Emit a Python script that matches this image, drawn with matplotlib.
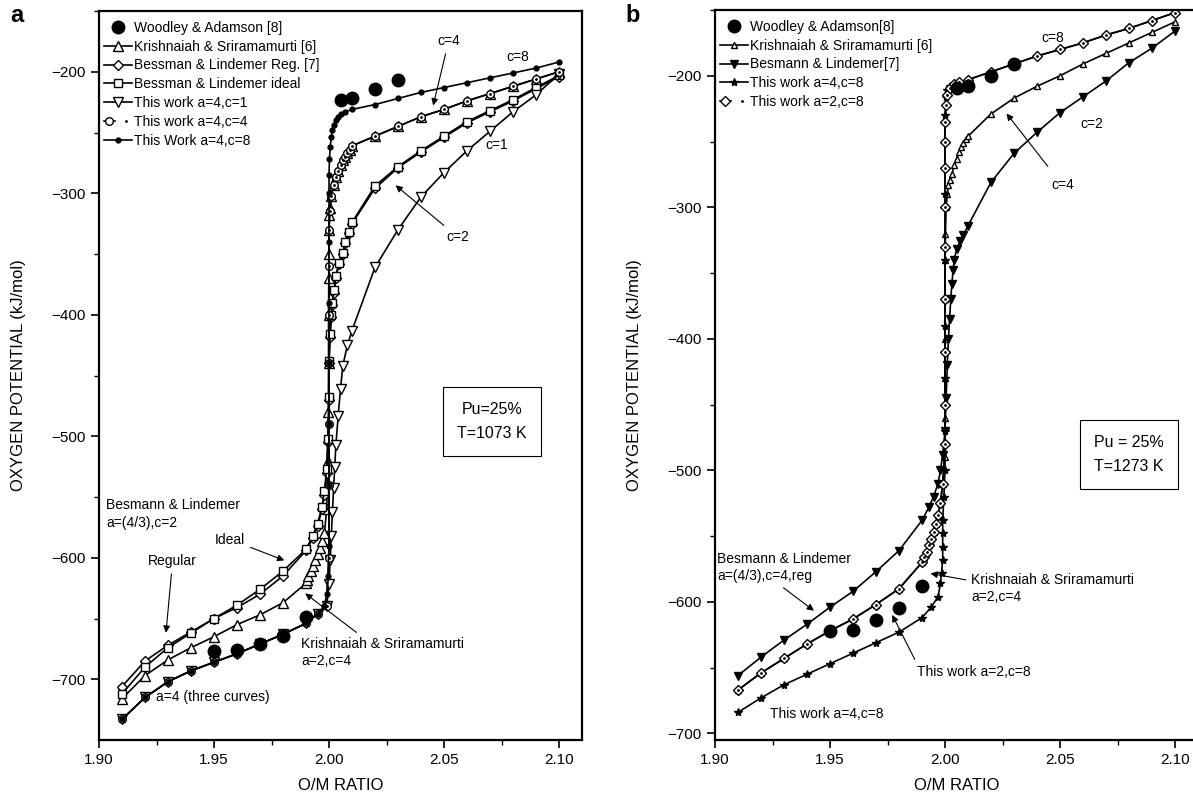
import matplotlib

matplotlib.use("Agg")
import matplotlib.pyplot as plt
from matplotlib.legend_handler import HandlerTuple

plt.rcParams["font.family"] = ["Liberation Sans", "DejaVu Sans"]

# ---------------- panel a (T = 1073 K) ----------------
a_wood_x = [1.95, 1.96, 1.97, 1.98, 1.99, 2.005, 2.01, 2.02, 2.03]
a_wood_y = [-677, -676, -671, -664, -649, -223, -222, -214, -207]

a_krish_x = [1.91, 1.92, 1.93, 1.94, 1.95, 1.96, 1.97, 1.98, 1.99, 1.9905, 1.991, 1.992,
             1.993, 1.994, 1.995, 1.996, 1.997, 1.998, 1.999, 1.9995, 1.9997, 1.9998, 1.9998,
             1.9999, 1.9999, 2.0, 2.0, 2.0005, 2.001, 2.002, 2.003, 2.004, 2.005, 2.006,
             2.007, 2.008, 2.009, 2.01, 2.02, 2.03, 2.04, 2.05, 2.06, 2.07, 2.08, 2.09, 2.10]
a_krish_y = [-716, -697, -684, -674, -665, -655, -647, -637, -621, -618, -615, -611,
             -607, -602, -597, -592, -586, -580, -560, -520, -480, -440, -400,
             -370, -350, -330, -318, -312, -302, -293, -287, -282, -277, -273,
             -270, -267, -264, -261, -253, -245, -237, -231, -224, -218, -212, -206, -200]

a_reg_x = [1.91, 1.92, 1.93, 1.94, 1.95, 1.96, 1.97, 1.98, 1.99, 1.993, 1.995, 1.997,
           1.998, 1.999, 1.9995, 2.0, 2.0, 2.0005, 2.001, 2.0015, 2.0022, 2.003, 2.0043,
           2.006, 2.007, 2.0085, 2.01, 2.02, 2.03, 2.04, 2.05, 2.06, 2.07, 2.08, 2.09, 2.10]
a_reg_y = [-706, -685, -672, -661, -650, -641, -630, -615, -594, -584, -574, -560,
           -548, -530, -505, -470, -440, -418, -402, -392, -382, -370, -358,
           -350, -341, -333, -325, -296, -279, -266, -254, -242, -233, -224, -214, -204]

a_ideal_x = [1.91, 1.92, 1.93, 1.94, 1.95, 1.96, 1.97, 1.98, 1.99, 1.993, 1.995, 1.997,
             1.998, 1.999, 1.9995, 2.0, 2.0, 2.0005, 2.001, 2.0015, 2.0022, 2.003, 2.0043,
             2.006, 2.007, 2.0085, 2.01, 2.02, 2.03, 2.04, 2.05, 2.06, 2.07, 2.08, 2.09, 2.10]
a_ideal_y = [-712, -690, -674, -662, -650, -639, -626, -611, -593, -582, -572, -558,
             -545, -527, -502, -468, -438, -416, -400, -390, -380, -368, -357,
             -349, -340, -332, -324, -294, -278, -265, -253, -241, -232, -223, -213, -203]

a_c1_x = [1.91, 1.92, 1.93, 1.94, 1.95, 1.96, 1.97, 1.98, 1.99, 1.995, 1.999, 2.0,
          2.0005, 2.001, 2.0015, 2.002, 2.0025, 2.003, 2.004, 2.005, 2.006, 2.008,
          2.01, 2.02, 2.03, 2.04, 2.05, 2.06, 2.07, 2.08, 2.09, 2.10]
a_c1_y = [-733, -715, -702, -693, -686, -679, -671, -663, -654, -646, -640, -622,
          -602, -582, -562, -543, -525, -507, -483, -461, -442, -425,
          -413, -361, -330, -303, -283, -265, -249, -233, -219, -202]

a_c4_x = [1.91, 1.92, 1.93, 1.94, 1.95, 1.96, 1.97, 1.98, 1.99, 1.995, 1.999, 2.0,
          2.0, 2.0, 2.0, 2.0, 2.0, 2.0, 2.0005, 2.001, 2.002, 2.003, 2.004, 2.005,
          2.006, 2.007, 2.008, 2.009, 2.01, 2.02, 2.03, 2.04, 2.05, 2.06, 2.07,
          2.08, 2.09, 2.10]
a_c4_y = [-733, -715, -702, -693, -686, -679, -671, -663, -654, -646, -640, -600,
          -540, -490, -440, -400, -360, -330, -315, -302, -293, -287, -282, -277,
          -273, -270, -267, -264, -261, -253, -245, -237, -231, -224, -218,
          -212, -206, -200]

a_c8_x = [1.91, 1.92, 1.93, 1.94, 1.95, 1.96, 1.97, 1.98, 1.99, 1.995, 1.998, 1.999,
          1.9995, 2.0, 2.0, 2.0, 2.0, 2.0, 2.0, 2.0, 2.0, 2.0002, 2.0005, 2.001,
          2.0015, 2.002, 2.003, 2.004, 2.005, 2.007, 2.01, 2.02, 2.03, 2.04, 2.05,
          2.06, 2.07, 2.08, 2.09, 2.10]
a_c8_y = [-733, -715, -702, -693, -686, -679, -671, -663, -654, -646, -640, -630,
          -615, -590, -540, -490, -440, -390, -340, -300, -285, -272, -262, -254,
          -248, -244, -240, -237, -235, -233, -231, -227, -222, -217, -213,
          -209, -205, -201, -197, -192]

# ---------------- panel b (T = 1273 K) ----------------
b_wood_x = [1.95, 1.96, 1.97, 1.98, 1.99, 2.005, 2.01, 2.02, 2.03]
b_wood_y = [-622, -621, -614, -605, -588, -209, -208, -200, -191]

b_krish_x = [1.91, 1.92, 1.93, 1.94, 1.95, 1.96, 1.97, 1.98, 1.99, 1.991, 1.992, 1.993,
             1.994, 1.995, 1.996, 1.997, 1.998, 1.999, 2.0, 2.0, 2.0, 2.0, 2.0, 2.0,
             2.0002, 2.0005, 2.001, 2.0015, 2.002, 2.003, 2.004, 2.005, 2.006, 2.007,
             2.008, 2.009, 2.01, 2.02, 2.03, 2.04, 2.05, 2.06, 2.07, 2.08, 2.09, 2.10]
b_krish_y = [-667, -654, -643, -632, -622, -613, -602, -590, -570, -566, -562, -557,
             -552, -547, -541, -534, -525, -510, -490, -460, -430, -400, -370, -340,
             -320, -300, -290, -283, -279, -275, -268, -263, -258, -254,
             -251, -248, -246, -229, -217, -208, -200, -191, -183, -175, -167, -159]

b_besm_x = [1.91, 1.92, 1.93, 1.94, 1.95, 1.96, 1.97, 1.98, 1.99, 1.993, 1.995, 1.997,
            1.998, 1.999, 2.0, 2.0005, 2.001, 2.0015, 2.002, 2.0025, 2.003, 2.0035,
            2.004, 2.005, 2.0065, 2.008, 2.01, 2.02, 2.03, 2.04, 2.05, 2.06, 2.07,
            2.08, 2.09, 2.10]
b_besm_y = [-656, -642, -629, -617, -604, -592, -577, -561, -538, -528, -520, -510,
            -500, -488, -470, -445, -420, -400, -385, -370, -358, -348,
            -340, -332, -326, -321, -314, -281, -259, -243, -228, -216, -204,
            -190, -179, -166]

b_star_x = [1.91, 1.92, 1.93, 1.94, 1.95, 1.96, 1.97, 1.98, 1.99, 1.994, 1.997, 1.998,
            1.9985, 1.999, 1.999, 1.999, 1.999, 1.9995, 2.0, 2.0, 2.0, 2.0, 2.0, 2.0,
            2.0, 2.0, 2.0005, 2.001, 2.002, 2.004, 2.006, 2.01, 2.02, 2.03, 2.04,
            2.05, 2.06, 2.07, 2.08, 2.09, 2.10]
b_star_y = [-684, -673, -663, -655, -647, -639, -631, -623, -612, -604, -596, -586,
            -578, -568, -558, -548, -538, -520, -500, -470, -430, -390, -340, -290,
            -250, -230, -216, -211, -208, -206, -205, -203, -197, -191, -185,
            -180, -175, -169, -164, -158, -152]

b_diam_x = [1.91, 1.92, 1.93, 1.94, 1.95, 1.96, 1.97, 1.98, 1.99, 1.991, 1.992, 1.993,
            1.994, 1.995, 1.996, 1.997, 1.998, 1.999, 2.0, 2.0, 2.0, 2.0, 2.0, 2.0,
            2.0, 2.0, 2.0, 2.0005, 2.001, 2.002, 2.004, 2.006, 2.01, 2.02, 2.03,
            2.04, 2.05, 2.06, 2.07, 2.08, 2.09, 2.10]
b_diam_y = [-667, -654, -643, -632, -622, -613, -602, -590, -570, -566, -562, -557,
            -552, -547, -541, -534, -525, -510, -480, -450, -410, -370, -330, -300,
            -270, -250, -235, -222, -215, -209, -206, -205, -203, -197, -191,
            -185, -180, -175, -169, -164, -158, -152]

LW = 1.2


def style_axes(ax, xlim, ylim, yticks):
    ax.set_xlim(*xlim)
    ax.set_ylim(*ylim)
    ax.set_xticks([1.90, 1.95, 2.00, 2.05, 2.10])
    ax.set_xticklabels(["1.90", "1.95", "2.00", "2.05", "2.10"])
    ax.set_xticks([1.925, 1.975, 2.025, 2.075], minor=True)
    ax.set_yticks(yticks)
    ax.set_yticks([v + 50 for v in yticks], minor=True)
    ax.tick_params(which="major", direction="out", length=6, width=1.2, labelsize=11)
    ax.tick_params(which="minor", direction="out", length=3.5, width=1.0)
    for sp in ax.spines.values():
        sp.set_linewidth(1.6)
    ax.set_xlabel("O/M RATIO", fontsize=12, labelpad=8)
    ax.set_ylabel("OXYGEN POTENTIAL (kJ/mol)", fontsize=12, labelpad=18)


fig = plt.figure(figsize=(11.93, 8.0), dpi=100)
ax_a = fig.add_axes([99 / 1193, 1 - 740 / 800, (582 - 99) / 1193, (740 - 11) / 800])
ax_b = fig.add_axes([715 / 1193, 1 - 740 / 800, (1198 - 715) / 1193, (740 - 10) / 800])

# ---- panel a ----
ax = ax_a
h_wood, = ax.plot(a_wood_x, a_wood_y, "o", color="black", ms=9, ls="none", zorder=5)
h_kr, = ax.plot(a_krish_x, a_krish_y, "-^", color="black", mfc="white", ms=7, lw=LW)
h_reg, = ax.plot(a_reg_x, a_reg_y, "-D", color="black", mfc="white", ms=5.5, lw=LW)
h_id, = ax.plot(a_ideal_x, a_ideal_y, "-s", color="black", mfc="white", ms=5.5, lw=LW)
h_c1, = ax.plot(a_c1_x, a_c1_y, "-v", color="black", mfc="white", ms=7.5, lw=LW)
h_c4, = ax.plot(a_c4_x, a_c4_y, "-o", color="black", mfc="white", ms=5.5, lw=LW)
h_c4d, = ax.plot(a_c4_x, a_c4_y, ".", color="black", ms=2, ls="none")
h_c8, = ax.plot(a_c8_x, a_c8_y, "-o", color="black", ms=3.5, lw=LW)

ax.legend([h_wood, h_kr, h_reg, h_id, h_c1, (h_c4, h_c4d), h_c8],
          ["Woodley & Adamson [8]", "Krishnaiah & Sriramamurti [6]",
           "Bessman & Lindemer Reg. [7]", "Bessman & Lindemer ideal",
           "This work a=4,c=1", "This work a=4,c=4", "This Work a=4,c=8"],
          handler_map={tuple: HandlerTuple(ndivide=None)},
          loc="upper left", bbox_to_anchor=(-0.01, 1.0), frameon=False, fontsize=10,
          handlelength=2.0, handletextpad=0.2, labelspacing=0.35, borderaxespad=0.3)

arrow = dict(arrowstyle="-|>", color="black", lw=0.8, mutation_scale=10)
ax.annotate("c=4", xy=(2.045, -230), xytext=(2.052, -175), fontsize=10,
            ha="center", va="center", arrowprops=arrow)
ax.text(2.082, -188, "c=8", fontsize=10, ha="center", va="center")
ax.text(2.073, -260, "c=1", fontsize=10, ha="center", va="center")
ax.annotate("c=2", xy=(2.028, -292), xytext=(2.056, -336), fontsize=10,
            ha="center", va="center", arrowprops=arrow)
ax.text(1.903, -564, "Besmann & Lindemer\na=(4/3),c=2", fontsize=10,
        ha="left", va="center", linespacing=1.3)
ax.annotate("Ideal", xy=(1.9817, -603), xytext=(1.957, -585), fontsize=10,
            ha="center", va="center", arrowprops=arrow)
ax.annotate("Regular", xy=(1.929, -664), xytext=(1.932, -603), fontsize=10,
            ha="center", va="center", arrowprops=arrow)
ax.annotate("Krishnaiah & Sriramamurti\na=2,c=4", xy=(1.9887, -628),
            xytext=(1.988, -678), fontsize=10, ha="left", va="center",
            linespacing=1.3, arrowprops=arrow)
ax.text(1.925, -715, "a=4 (three curves)", fontsize=10, ha="left", va="center")
ax.text(2.071, -488, "Pu=25%\nT=1073 K", fontsize=11.5, ha="center", va="center",
        linespacing=1.8,
        bbox=dict(boxstyle="square,pad=0.9", fc="white", ec="black", lw=0.8))
style_axes(ax, (1.90, 2.11), (-750, -150), [-700, -600, -500, -400, -300, -200])

# ---- panel b ----
ax = ax_b
hb_wood, = ax.plot(b_wood_x, b_wood_y, "o", color="black", ms=9, ls="none", zorder=5)
hb_kr, = ax.plot(b_krish_x, b_krish_y, "-^", color="black", mfc="white", ms=5, lw=LW)
hb_bes, = ax.plot(b_besm_x, b_besm_y, "-v", color="black", ms=6, lw=LW)
hb_star, = ax.plot(b_star_x, b_star_y, "-*", color="black", ms=6, lw=LW)
hb_diam, = ax.plot(b_diam_x, b_diam_y, "-D", color="black", mfc="white", ms=5.5, lw=LW)
hb_diamd, = ax.plot(b_diam_x, b_diam_y, ".", color="black", ms=2, ls="none")

ax.legend([hb_wood, hb_kr, hb_bes, hb_star, (hb_diam, hb_diamd)],
          ["Woodley & Adamson[8]", "Krishnaiah & Sriramamurti [6]",
           "Besmann & Lindemer[7]", "This work a=4,c=8", "This work a=2,c=8"],
          handler_map={tuple: HandlerTuple(ndivide=None)},
          loc="upper left", bbox_to_anchor=(-0.01, 1.0), frameon=False, fontsize=10,
          handlelength=2.0, handletextpad=0.2, labelspacing=0.35, borderaxespad=0.3)

ax.text(2.047, -171, "c=8", fontsize=10, ha="center", va="center")
ax.text(2.064, -237, "c=2", fontsize=10, ha="center", va="center")
ax.annotate("c=4", xy=(2.026, -227), xytext=(2.051, -283), fontsize=10,
            ha="center", va="center",
            arrowprops=dict(arrowstyle="-|>", color="black", lw=0.8, mutation_scale=10,
                            shrinkA=8))
ax.annotate("Besmann & Lindemer\na=(4/3),c=4,reg", xy=(1.944, -608),
            xytext=(1.901, -574), fontsize=10, ha="left", va="center",
            linespacing=1.3, arrowprops=dict(arrowstyle="-|>", color="black", lw=0.8,
                                             mutation_scale=10, relpos=(0.45, 0.0)))
ax.annotate("Krishnaiah & Sriramamurti\na=2,c=4", xy=(1.9925, -578),
            xytext=(2.0115, -590), fontsize=10, ha="left", va="center",
            linespacing=1.3, arrowprops=dict(arrowstyle="-|>", color="black", lw=0.8,
                                             mutation_scale=10, relpos=(0.0, 0.75)))
ax.annotate("This work a=2,c=8", xy=(1.9765, -608), xytext=(1.988, -653),
            fontsize=10, ha="left", va="center",
            arrowprops=dict(arrowstyle="-|>", color="black", lw=0.8,
                            mutation_scale=10, relpos=(0.0, 1.0)))
ax.text(1.924, -685, "This work a=4,c=8", fontsize=10, ha="left", va="center")
ax.text(2.08, -488, "Pu = 25%\nT=1273 K", fontsize=11.5, ha="center", va="center",
        linespacing=1.8,
        bbox=dict(boxstyle="square,pad=0.9", fc="white", ec="black", lw=0.8))
style_axes(ax, (1.90, 2.11), (-705, -150), [-700, -600, -500, -400, -300, -200])

fig.text(10 / 1193, 1 - 16 / 800, "a", fontsize=17, fontweight="bold", va="center")
fig.text(625 / 1193, 1 - 16 / 800, "b", fontsize=17, fontweight="bold", va="center")

fig.savefig("out.png", dpi=100)
